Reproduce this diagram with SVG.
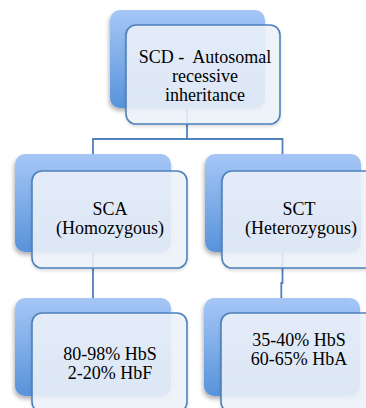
<svg xmlns="http://www.w3.org/2000/svg" width="366" height="408" viewBox="0 0 366 408">
  <defs>
    <linearGradient id="backGrad" x1="0" y1="0" x2="0" y2="1">
      <stop offset="0" stop-color="#a6c7f7"/>
      <stop offset="1" stop-color="#5793da"/>
    </linearGradient>
    <filter id="shadow" x="-10%" y="-10%" width="120%" height="125%">
      <feDropShadow dx="-1" dy="3" stdDeviation="2" flood-color="#000" flood-opacity="0.3"/>
    </filter>
    <filter id="shadowSoft" x="-10%" y="-10%" width="120%" height="125%">
      <feDropShadow dx="0" dy="2" stdDeviation="1.5" flood-color="#000" flood-opacity="0.15"/>
    </filter>
  </defs>
  <style>
    .back { fill: url(#backGrad); filter: url(#shadow); }
    .front { fill: #eef3fa; fill-opacity: 0.88; stroke: #4f81bd; stroke-width: 1.6; filter: url(#shadowSoft); }
    .conn { fill: none; stroke: #4f81bd; stroke-width: 1.8; }
    .lbl { font-size: 18px; fill: #000; text-anchor: middle; }
  </style>

  <rect width="366" height="408" fill="#ffffff"/>

  <!-- tree connectors, drawn beneath the nodes -->
  <g id="connectors">
    <path class="conn" d="M187 75 V139 H93 V330"/>
    <path class="conn" d="M187 139 H282.5 V283 H281.3 V330"/>
  </g>

  <g id="node-scd">
    <rect class="back" x="110" y="10" width="155" height="98" rx="10"/>
    <rect class="front" x="126" y="25" width="154" height="99" rx="10"/>
    <text class="lbl" font-family="'Liberation Serif', 'DejaVu Serif', serif" x="205" y="62.5" xml:space="preserve">SCD -  Autosomal</text>
    <text class="lbl" font-family="'Liberation Serif', 'DejaVu Serif', serif" x="205" y="81.5">recessive</text>
    <text class="lbl" font-family="'Liberation Serif', 'DejaVu Serif', serif" x="205" y="100.5">inheritance</text>
  </g>

  <g id="node-sca">
    <rect class="back" x="15" y="154" width="156" height="98" rx="10"/>
    <rect class="front" x="32" y="171" width="155" height="97" rx="10"/>
    <text class="lbl" font-family="'Liberation Serif', 'DejaVu Serif', serif" x="110" y="215">SCA</text>
    <text class="lbl" font-family="'Liberation Serif', 'DejaVu Serif', serif" x="110" y="234">(Homozygous)</text>
  </g>

  <g id="node-sct">
    <rect class="back" x="205" y="154" width="156" height="98" rx="10"/>
    <rect class="front" x="222" y="171" width="155" height="97" rx="10"/>
    <text class="lbl" font-family="'Liberation Serif', 'DejaVu Serif', serif" x="299" y="215">SCT</text>
    <text class="lbl" font-family="'Liberation Serif', 'DejaVu Serif', serif" x="301" y="234">(Heterozygous)</text>
  </g>

  <g id="node-sca-hb">
    <rect class="back" x="15" y="298" width="156" height="98" rx="10"/>
    <rect class="front" x="32" y="313" width="155" height="99" rx="10"/>
    <text class="lbl" font-family="'Liberation Serif', 'DejaVu Serif', serif" x="110" y="360">80-98% HbS</text>
    <text class="lbl" font-family="'Liberation Serif', 'DejaVu Serif', serif" x="110" y="379">2-20% HbF</text>
  </g>

  <g id="node-sct-hb">
    <rect class="back" x="204" y="298" width="156" height="98" rx="10"/>
    <rect class="front" x="221" y="313" width="155" height="99" rx="10"/>
    <text class="lbl" font-family="'Liberation Serif', 'DejaVu Serif', serif" x="299" y="346">35-40% HbS</text>
    <text class="lbl" font-family="'Liberation Serif', 'DejaVu Serif', serif" x="299" y="364.5">60-65% HbA</text>
  </g>
</svg>
